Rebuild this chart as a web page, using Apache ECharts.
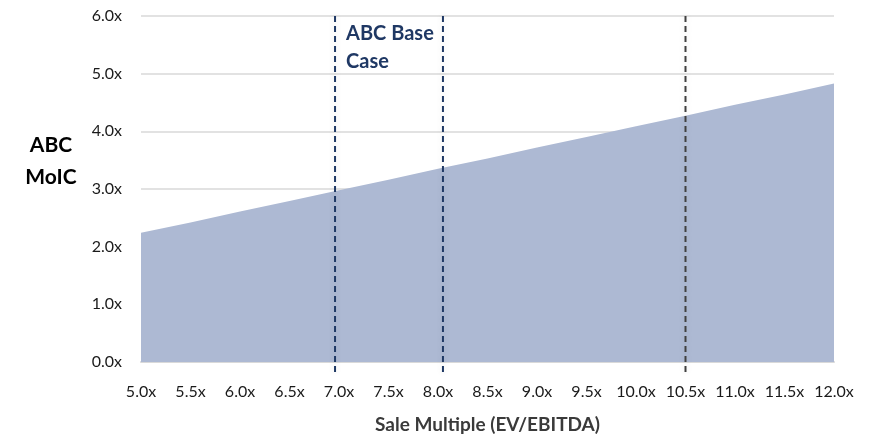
<!DOCTYPE html>
<html>
<head>
<meta charset="utf-8">
<script src="https://cdn.jsdelivr.net/npm/echarts@6/dist/echarts.min.js"></script>
<style>
  html, body { margin: 0; padding: 0; background: #ffffff; }
  #chart { width: 869px; height: 434px; }
</style>
</head>
<body>
<div id="chart"></div>
<script>
// Sale multiple (EV/EBITDA) and the resulting MoIC
const saleMultiples = [5.0, 5.5, 6.0, 6.5, 7.0, 7.5, 8.0, 8.5, 9.0, 9.5, 10.0, 10.5, 11.0, 11.5, 12.0];
const moic = [2.24, 2.42, 2.61, 2.79, 2.98, 3.16, 3.35, 3.53, 3.72, 3.90, 4.09, 4.27, 4.46, 4.64, 4.83];

// Reference multiples marked with dashed verticals
const baseCaseRange = [6.96, 8.05];
const exitMarker = 10.5;

const xRange = [5.0, 12.0];
const yRange = [0, 6];

const FONT = 'Lato, "Open Sans", sans-serif';
const NAVY = '#1f3864';

const chart = echarts.init(document.getElementById('chart'), null, { renderer: 'canvas' });

const markerLines = [
  { x: baseCaseRange[0], color: NAVY },
  { x: baseCaseRange[1], color: NAVY },
  { x: exitMarker, color: '#404040' }
];

chart.setOption({
  backgroundColor: '#ffffff',
  animation: false,
  grid: { left: 141, right: 35, top: 16, bottom: 72, containLabel: false, outerBoundsMode: 'none' },
  xAxis: {
    type: 'value',
    min: xRange[0],
    max: xRange[1],
    interval: 0.5,
    name: 'Sale Multiple (EV/EBITDA)',
    nameLocation: 'middle',
    nameGap: 53,
    nameTextStyle: { fontFamily: FONT, fontSize: 19, fontWeight: 'bold', color: '#3a3a3a' },
    axisLine: { show: true, lineStyle: { color: '#d9d9d9', width: 2 } },
    axisTick: { show: false },
    splitLine: { show: false },
    axisLabel: {
      fontFamily: FONT, fontSize: 16, color: '#1a1a1a', margin: 22,
      formatter: v => v.toFixed(1) + 'x'
    }
  },
  yAxis: {
    type: 'value',
    min: yRange[0],
    max: yRange[1],
    interval: 1,
    axisLine: { show: false },
    axisTick: { show: false },
    splitLine: { show: true, lineStyle: { color: '#d9d9d9', width: 1.5 } },
    axisLabel: {
      fontFamily: FONT, fontSize: 16, color: '#1a1a1a', margin: 19,
      formatter: v => v.toFixed(1) + 'x'
    }
  },
  graphic: [
    {
      type: 'text',
      position: [51, 161],
      style: {
        text: 'ABC\nMoIC',
        x: 0, y: 0,
        font: 'bold 21px ' + FONT,
        fill: '#000000',
        align: 'center',
        verticalAlign: 'middle',
        lineHeight: 32
      }
    }
  ],
  series: [
    {
      name: 'MoIC',
      type: 'line',
      data: saleMultiples.map((x, i) => [x, moic[i]]),
      showSymbol: false,
      lineStyle: { width: 0 },
      areaStyle: { color: '#adb9d3', opacity: 1 },
      z: 2
    },
    {
      name: 'Markers',
      type: 'custom',
      data: markerLines.map(m => [m.x, yRange[1]]),
      clip: false,
      z: 5,
      renderItem: (params, api) => {
        const m = markerLines[params.dataIndex];
        const top = api.coord([m.x, yRange[1]]);
        const bottom = api.coord([m.x, yRange[0]]);
        const children = [{
          type: 'line',
          shape: { x1: top[0], y1: top[1], x2: bottom[0], y2: bottom[1] + 13 },
          style: {
            stroke: m.color, lineWidth: 2, lineDash: [6, 4],
            shadowColor: 'rgba(0,0,0,0.12)', shadowBlur: 6
          }
        }];
        if (params.dataIndex === 0) {
          children.push({
            type: 'text',
            style: {
              x: top[0] + 11, y: top[1] + 4,
              text: 'ABC Base\nCase',
              font: 'bold 20px ' + FONT,
              fill: NAVY,
              align: 'left',
              verticalAlign: 'top',
              lineHeight: 28
            }
          });
        }
        return { type: 'group', children };
      }
    }
  ]
});
</script>
</body>
</html>
